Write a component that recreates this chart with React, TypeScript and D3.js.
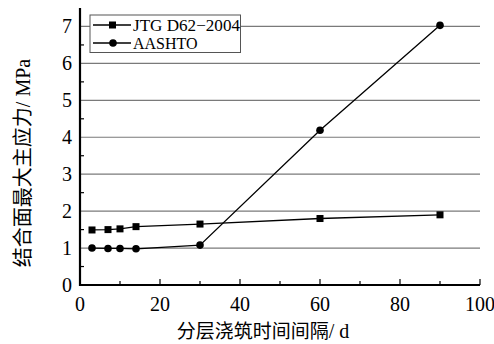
import React from "react";
import * as d3 from "d3";

const xDays = [3, 7, 10, 14, 30, 60, 90];
const jtgValues = [1.49, 1.5, 1.52, 1.58, 1.65, 1.8, 1.9];
const aashtoValues = [1.0, 0.99, 0.99, 0.98, 1.08, 4.19, 7.03];
const xTicks = [0, 20, 40, 60, 80, 100];
const yTicks = [0, 1, 2, 3, 4, 5, 6, 7];
const seriesNames = ["JTG D62\u22122004", "AASHTO"];

const W = 494, H = 344;
const m = { left: 80, right: 14, top: 8, bottom: 59 };

export default function App() {
  const x = d3.scaleLinear().domain([0, 100]).range([m.left, W - m.right]);
  const y = d3.scaleLinear().domain([0, 7.5]).range([H - m.bottom, m.top]);
  const line = d3.line<number>().x((_, i) => x(xDays[i])).y((d) => y(d));
  const serif = "'Liberation Serif', 'Times New Roman', serif";
  const cjk = "'Noto Sans CJK SC', sans-serif";
  const minorX = d3.range(10, 100, 20);
  const minorY = d3.range(0.5, 7.5, 1);
  const x0 = x(0), y0 = y(0);
  return (
    <svg width={W} height={H} style={{ position: "absolute", left: 0, top: 0, background: "#fff" }}>
      {yTicks.filter((t) => t > 0).map((t) => (
        <line key={"g" + t} x1={x0} x2={x(100)} y1={y(t)} y2={y(t)} stroke="#7a7a7a" strokeWidth={1.2} />
      ))}
      {xTicks.filter((t) => t > 0).map((t) => (
        <line key={"xt" + t} x1={x(t)} x2={x(t)} y1={y0} y2={y0 - 6} stroke="#000" strokeWidth={1.2} />
      ))}
      {minorX.map((t) => (
        <line key={"xm" + t} x1={x(t)} x2={x(t)} y1={y0} y2={y0 - 4} stroke="#000" strokeWidth={1.2} />
      ))}
      {minorY.map((t) => (
        <line key={"ym" + t} x1={x0} x2={x0 + 4} y1={y(t)} y2={y(t)} stroke="#000" strokeWidth={1.2} />
      ))}
      <line x1={x0} x2={x0} y1={y(7.5)} y2={y0 + 1} stroke="#000" strokeWidth={2.2} />
      <line x1={x0 - 1} x2={x(100)} y1={y0} y2={y0} stroke="#000" strokeWidth={2.2} />
      {yTicks.map((t) => (
        <text key={"yl" + t} x={x0 - 8} y={y(t)} dy="0.35em" textAnchor="end" fontFamily={serif} fontSize={20}>{t}</text>
      ))}
      {xTicks.map((t) => (
        <text key={"xl" + t} x={x(t)} y={y0 + 26} textAnchor="middle" fontFamily={serif} fontSize={20}>{t}</text>
      ))}
      <path d={line(jtgValues) || ""} fill="none" stroke="#000" strokeWidth={1.3} />
      <path d={line(aashtoValues) || ""} fill="none" stroke="#000" strokeWidth={1.3} />
      {jtgValues.map((v, i) => (
        <rect key={"s" + i} x={x(xDays[i]) - 3.5} y={y(v) - 3.5} width={7} height={7} fill="#000" />
      ))}
      {aashtoValues.map((v, i) => (
        <circle key={"c" + i} cx={x(xDays[i])} cy={y(v)} r={3.8} fill="#000" />
      ))}
      <g>
        <rect x={90} y={15} width={150.5} height={37.5} fill="#fff" stroke="#555" strokeWidth={1} />
        <line x1={93} x2={131} y1={25} y2={25} stroke="#000" strokeWidth={1.3} />
        <rect x={109} y={21.5} width={7} height={7} fill="#000" />
        <text x={133} y={25} dy="0.35em" fontFamily={serif} fontSize={16} textLength={107} lengthAdjust="spacingAndGlyphs">{seriesNames[0]}</text>
        <line x1={93} x2={131} y1={43} y2={43} stroke="#000" strokeWidth={1.3} />
        <circle cx={113} cy={43} r={3.8} fill="#000" />
        <text x={133} y={43} dy="0.35em" fontFamily={serif} fontSize={16}>{seriesNames[1]}</text>
      </g>
      <text x={263} y={338} textAnchor="middle" fontSize={19}>
        <tspan fontFamily={cjk}>分层浇筑时间间隔</tspan>
        <tspan fontFamily={serif} fontSize={20}>/ d</tspan>
      </text>
      <text transform={`translate(23, ${163}) rotate(-90)`} textAnchor="middle" dy="0.35em" fontSize={20}>
        <tspan fontFamily={cjk}>结合面最大主应力</tspan>
        <tspan fontFamily={serif} fontSize={20}>/ MPa</tspan>
      </text>
    </svg>
  );
}
